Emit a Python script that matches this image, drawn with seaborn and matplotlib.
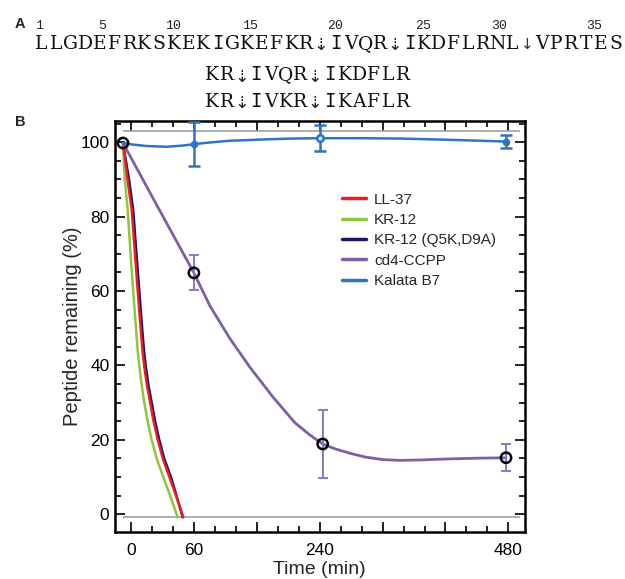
import numpy as np
import pandas as pd
import matplotlib
matplotlib.use("Agg")
import matplotlib.pyplot as plt
import seaborn as sns
from matplotlib.lines import Line2D
from matplotlib.ticker import FixedLocator, FixedFormatter, NullFormatter

# ---------------- data ----------------
seq_main = "LLGDEFRKSKEKIGKEFKR⇣IVQR⇣IKDFLRNL↓VPRTES"
seq_kr12 = "KR⇣IVQR⇣IKDFLR"
seq_kr12_mut = "KR⇣IVKR⇣IKAFLR"
res_numbers = ["1", "5", "10", "15", "20", "25", "30", "35"]

series_names = ["LL-37", "KR-12", "KR-12 (Q5K,D9A)", "cd4-CCPP", "Kalata B7"]
series_colors = ["#ee1c25", "#8dc63f", "#1b1464", "#7e5ea8", "#2e74c6"]

curve_y_fast = [99.8, 90, 82, 70, 60, 50, 44, 40, 35, 30, 25, 20, 15, 10, 5, 0, -0.8]
ll37_t = [0, 3.8, 7.35, 10.15, 12.5, 14.97, 16.5, 17.94, 20.13, 23.01, 25.89,
          29.45, 33.68, 39.3, 44.85, 50.2, 51.0]
kr12_t = [0, 1.52, 3.97, 6.42, 8.62, 10.99, 12.43, 13.79, 15.73, 18.02, 20.9,
          24.28, 28.51, 34.1, 39.94, 45.44, 46.29]
kr12m_t = [0, 5.1, 8.6, 11.4, 13.8, 16.2, 17.8, 19.2, 21.4, 24.3, 27.2,
           30.7, 34.9, 40.6, 45.3, 49.8, 50.6]

cd4_curve_t = [0, 30, 60, 83.0, 111.7, 140.3, 173.2, 204.7, 226.1, 243.8, 259.5,
               278.5, 297.6, 320.5, 342.1, 367.6, 405.8, 443.9, 477]
cd4_curve_y = [99.8, 82.3, 64.9, 56, 47.2, 39.5, 31.5, 24.6, 21.3, 18.9, 17.6,
               16.4, 15.4, 14.7, 14.5, 14.6, 14.9, 15.1, 15.2]
cd4_pts_t = [0, 60, 243.8, 477]
cd4_pts_y = [99.8, 64.9, 18.9, 15.2]
cd4_pts_err = [0, 4.7, 9.2, 3.6]

kal_curve_t = [0, 8, 20, 37, 50, 60, 80, 110, 165, 200, 240, 290, 344, 400, 440, 477]
kal_curve_y = [99.8, 99.4, 99.0, 98.8, 99.1, 99.5, 99.9, 100.4, 100.8, 101.0, 101.1,
               101.1, 101.0, 100.7, 100.45, 100.2]
kal_pts_t = [60, 240, 477]
kal_pts_y = [99.6, 101.1, 100.2]
kal_pts_err = [5.9, 3.5, 1.8]

xtick_labels = ["0", "60", "", "240", "", "", "480"]

# ---------------- axis scale (piecewise, as in the figure) ----------------
U0 = -0.127
S1 = (1 - U0) / 60.0


def fwd(t):
    t = np.asarray(t, dtype=float)
    return np.where(t < 60, U0 + t * S1,
                    np.where(t < 240, 1 + (t - 60) / 90.0, 3 + (t - 240) / 80.0))


def inv(u):
    u = np.asarray(u, dtype=float)
    return np.where(u < 1, (u - U0) / S1,
                    np.where(u < 3, 60 + (u - 1) * 90.0, 240 + (u - 3) * 80.0))


# ---------------- figure ----------------
sns.set_theme(style="ticks")
plt.rcParams["font.family"] = ["Liberation Sans", "DejaVu Sans"]

W, H = 625, 579
fig = plt.figure(figsize=(W / 100, H / 100), dpi=100)
ax = fig.add_axes([115 / W, 1 - 532 / H, (524.5 - 115) / W, (532 - 120.5) / H])
ax.set_xscale("function", functions=(fwd, inv))


def fx(px):
    return px / W


def fy(py):
    return 1 - py / H


# Panel A
serif = ["DejaVu Serif", "DejaVu Sans"]
mono = ["Liberation Mono", "DejaVu Sans Mono", "DejaVu Sans"]
fig.text(fx(15), fy(28), "A", fontsize=10.5, fontweight="bold", ha="left", va="baseline")
fig.text(fx(15), fy(125.5), "B", fontsize=10.5, fontweight="bold", ha="left", va="baseline")

cell = 14.72


def draw_seq(s, left, base):
    for i, ch in enumerate(s):
        xc = fx(left + cell * (i + 0.5))
        if ch == "⇣":
            fig.text(xc, fy(base + 1), ch, fontsize=12.5, family=["DejaVu Sans"],
                     ha="center", va="baseline", color="#222222")
        elif ch == "↓":
            fig.text(xc, fy(base), ch, fontsize=11, family=["DejaVu Sans"],
                     ha="center", va="baseline", color="#333333")
        elif ch == "I":
            fig.text(xc, fy(base), ch, fontsize=13.5, family=["DejaVu Sans Mono"],
                     ha="center", va="baseline", color="#111111")
        else:
            fig.text(xc, fy(base), ch, fontsize=13.5, family=serif,
                     ha="center", va="baseline", color="#111111")


draw_seq(seq_main, 34, 49)
draw_seq(seq_kr12, 204.7, 80.5)
draw_seq(seq_kr12_mut, 204.7, 107)
num_px = [39, 102, 173, 250, 335, 423, 499, 594]
for lab, px in zip(res_numbers, num_px):
    fig.text(fx(px), fy(29), lab, fontsize=9.5, family=mono, ha="center",
             va="baseline", color="#222222")

# Panel B
x_lo, x_hi = float(inv(-0.254)), float(inv(6.256))
ax.hlines([103, -0.8], 0, float(inv(6.18)), color="#a0a0a0", lw=1.2, zorder=1)

curves = pd.concat([
    pd.DataFrame({"t": kr12m_t, "y": curve_y_fast, "s": series_names[2]}),
    pd.DataFrame({"t": kr12_t, "y": curve_y_fast, "s": series_names[1]}),
    pd.DataFrame({"t": ll37_t, "y": curve_y_fast, "s": series_names[0]}),
    pd.DataFrame({"t": cd4_curve_t, "y": cd4_curve_y, "s": series_names[3]}),
    pd.DataFrame({"t": kal_curve_t, "y": kal_curve_y, "s": series_names[4]}),
])
pal = dict(zip(series_names, series_colors))
for name in [series_names[2], series_names[1], series_names[0], series_names[3], series_names[4]]:
    sub = curves[curves["s"] == name]
    sns.lineplot(data=sub, x="t", y="y", color=pal[name], sort=False, estimator=None,
                 lw=2.0 if name == "cd4-CCPP" else 1.8, ax=ax, legend=False, zorder=3)

# error bars
ax.errorbar(cd4_pts_t[1:], cd4_pts_y[1:], yerr=cd4_pts_err[1:], fmt="none",
            ecolor="#8878cc", elinewidth=1.4, capsize=3.5, capthick=1.4, zorder=4)
ax.errorbar(kal_pts_t, kal_pts_y, yerr=kal_pts_err, fmt="none",
            ecolor="#2e74c6", elinewidth=1.8, capsize=4, capthick=1.8, zorder=4)

# markers
kal_filled = [0, 2]
ax.scatter([kal_pts_t[i] for i in kal_filled], [kal_pts_y[i] for i in kal_filled],
           s=30, color="#2e74c6", zorder=5, linewidths=0)
ax.scatter([kal_pts_t[1]], [kal_pts_y[1]], s=22, facecolors="#dce8f7",
           edgecolors="#2e74c6", linewidths=1.8, zorder=5)
ax.scatter(cd4_pts_t, cd4_pts_y, s=55, facecolors="none", edgecolors="black",
           linewidths=1.8, zorder=6)

ax.set_xlim(x_lo, x_hi)
ax.set_ylim(-4.76, 105.86)

major_u = np.arange(0, 7)
minor_u = [k / 3 for k in range(0, 19) if k % 3 != 0]
ax.xaxis.set_major_locator(FixedLocator(inv(major_u)))
ax.xaxis.set_major_formatter(FixedFormatter(xtick_labels))
ax.xaxis.set_minor_locator(FixedLocator(inv(np.array(minor_u))))
ax.xaxis.set_minor_formatter(NullFormatter())
ax.set_yticks(np.arange(0, 101, 20))
ax.set_yticks(np.arange(0, 106, 5), minor=True)

ax.tick_params(axis="both", which="both", direction="in", top=True, right=True,
               colors="black", width=1.2, labelsize=12.5)
ax.tick_params(axis="both", which="major", length=7)
ax.tick_params(axis="both", which="minor", length=4)
ax.tick_params(axis="x", which="major", pad=8)
ax.tick_params(axis="y", which="major", pad=4)
for sp in ax.spines.values():
    sp.set_linewidth(1.8)
    sp.set_color("black")

ax.set_xlabel("Time (min)", fontsize=14, labelpad=2)
ax.set_ylabel("Peptide remaining (%)", fontsize=14.5, labelpad=-1)

handles = [Line2D([0], [0], color=c, lw=2.5) for c in series_colors]
leg = ax.legend(handles, series_names, loc="upper left", frameon=False,
                bbox_to_anchor=(fx(342), fy(192.5)), bbox_transform=fig.transFigure,
                fontsize=11, handlelength=1.6, handletextpad=0.5, labelspacing=0.42,
                borderpad=0, borderaxespad=0)

fig.savefig("out.png", dpi=100)
